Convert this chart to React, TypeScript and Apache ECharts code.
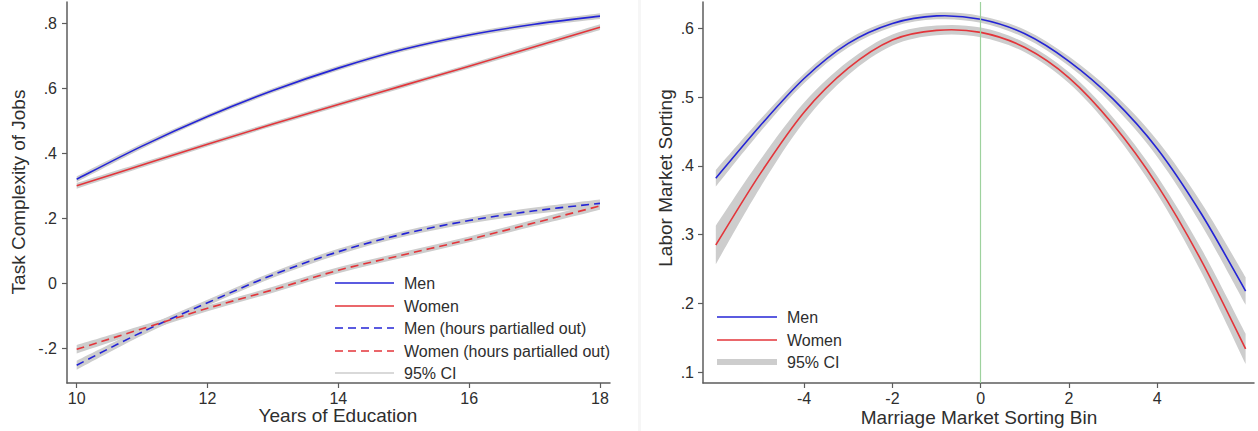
import React, { useEffect, useRef } from "react";
import * as echarts from "echarts";

// Left panel: task complexity by years of education
const EDU = [10, 11, 12, 13, 14, 15, 16, 17, 18];
const MEN = [0.32, 0.422, 0.513, 0.593, 0.662, 0.72, 0.764, 0.797, 0.822];
const WOMEN = [0.3, 0.364, 0.428, 0.49, 0.55, 0.609, 0.668, 0.728, 0.788];
const MEN_HRS = [-0.252, -0.15, -0.06, 0.026, 0.097, 0.152, 0.193, 0.223, 0.246];
const WOMEN_HRS = [-0.203, -0.14, -0.077, -0.02, 0.04, 0.088, 0.135, 0.186, 0.238];
const MEN_CI = [0.009, 0.008, 0.007, 0.007, 0.007, 0.007, 0.007, 0.008, 0.009];
const WOMEN_CI = [0.009, 0.008, 0.007, 0.007, 0.007, 0.007, 0.007, 0.008, 0.009];
const MEN_HRS_CI = [0.014, 0.011, 0.009, 0.009, 0.009, 0.009, 0.009, 0.01, 0.012];
const WOMEN_HRS_CI = [0.013, 0.01, 0.009, 0.009, 0.009, 0.009, 0.009, 0.01, 0.012];
const EDU_TICKS = [10, 12, 14, 16, 18];
const TASK_TICKS = [-0.2, 0, 0.2, 0.4, 0.6, 0.8];

// Right panel: labor market sorting by marriage market sorting bin
const BIN = [-6, -5, -4, -3, -2, -1, 0, 1, 2, 3, 4, 5, 6];
const LMS_MEN = [0.382, 0.458, 0.527, 0.578, 0.607, 0.618, 0.613, 0.592, 0.552, 0.497, 0.425, 0.33, 0.218];
const LMS_WOMEN = [0.285, 0.388, 0.478, 0.542, 0.583, 0.597, 0.594, 0.572, 0.528, 0.46, 0.372, 0.262, 0.134];
const LMS_MEN_CI = [0.012, 0.009, 0.007, 0.006, 0.005, 0.005, 0.005, 0.006, 0.007, 0.009, 0.012, 0.016, 0.02];
const LMS_WOMEN_CI = [0.028, 0.02, 0.014, 0.01, 0.008, 0.007, 0.007, 0.007, 0.008, 0.01, 0.013, 0.017, 0.022];
const BIN_TICKS = [-4, -2, 0, 2, 4];
const SORT_TICKS = [0.1, 0.2, 0.3, 0.4, 0.5, 0.6];

const BLUE = "#2424d6";
const RED = "#e3353a";
const BAND = "#cdcdcd";
const AXIS = "#5c5c5c";
const TEXT = "#2e2e2e";
const FONT = "'Liberation Sans', Arial, sans-serif";

const stataLabel = (v: number) => {
  if (Math.abs(v) < 1e-9) return "0";
  const s = String(Number(v.toFixed(3)));
  return s.replace(/^(-?)0\./, "$1.");
};

type Pt = number[];

// Catmull-Rom spline through pixel points, written as cubic Bezier segments
function splineSegments(p: Pt[], moveFirst: boolean) {
  let d = moveFirst ? `M${p[0][0]},${p[0][1]}` : `L${p[0][0]},${p[0][1]}`;
  for (let i = 0; i < p.length - 1; i++) {
    const p0 = p[i - 1] || p[i];
    const p1 = p[i];
    const p2 = p[i + 1];
    const p3 = p[i + 2] || p2;
    const c1x = p1[0] + (p2[0] - p0[0]) / 6;
    const c1y = p1[1] + (p2[1] - p0[1]) / 6;
    const c2x = p2[0] - (p3[0] - p1[0]) / 6;
    const c2y = p2[1] - (p3[1] - p1[1]) / 6;
    d += ` C${c1x},${c1y} ${c2x},${c2y} ${p2[0]},${p2[1]}`;
  }
  return d;
}

function band(xs: number[], mid: number[], half: number[], axis: number) {
  return {
    type: "custom",
    coordinateSystem: "cartesian2d",
    xAxisIndex: axis,
    yAxisIndex: axis,
    silent: true,
    z: 1,
    data: [[xs[0], mid[0]]],
    renderItem: (_params: any, api: any) => {
      const upper = xs.map((x, i) => api.coord([x, mid[i] + half[i]]));
      const lower = xs.map((x, i) => api.coord([x, mid[i] - half[i]])).reverse();
      const d = splineSegments(upper, true) + " " + splineSegments(lower, false) + " Z";
      return { type: "path", shape: { pathData: d }, style: { fill: BAND, stroke: "none" } };
    },
  };
}

function curve(xs: number[], ys: number[], color: string, axis: number, dashed = false) {
  return {
    type: "custom",
    coordinateSystem: "cartesian2d",
    xAxisIndex: axis,
    yAxisIndex: axis,
    silent: true,
    z: 3,
    data: [[xs[0], ys[0]]],
    renderItem: (_params: any, api: any) => {
      const pts = xs.map((x, i) => api.coord([x, ys[i]]));
      return {
        type: "path",
        shape: { pathData: splineSegments(pts, true) },
        style: { fill: "none", stroke: color, lineWidth: 1.6, lineDash: dashed ? [8, 5] : null },
      };
    },
  };
}

function valueAxis(min: number, max: number, ticks: number[], pos: "bottom" | "left", gridIndex: number, margin: number) {
  return {
    type: "value",
    gridIndex,
    position: pos,
    min,
    max,
    splitLine: { show: false },
    axisLine: { show: true, onZero: false, lineStyle: { color: AXIS, width: 1.5 } },
    axisTick: { show: true, inside: false, length: 5, customValues: ticks, lineStyle: { color: AXIS, width: 1.2 } },
    axisLabel: {
      customValues: ticks,
      formatter: (v: number) => stataLabel(v),
      color: TEXT,
      fontSize: 16,
      fontFamily: FONT,
      margin,
    },
  };
}

function legendRows(x1: number, x2: number, tx: number, rows: { y: number; label: string; color: string; width: number; dash?: number[] }[]) {
  const els: any[] = [];
  rows.forEach((r) => {
    els.push({
      type: "line",
      shape: { x1, y1: r.y, x2, y2: r.y },
      style: { stroke: r.color, lineWidth: r.width, lineDash: r.dash || null },
    });
    els.push({
      type: "text",
      x: tx,
      y: r.y,
      style: { text: r.label, font: `16px ${FONT}`, fill: TEXT, verticalAlign: "middle", align: "left" },
    });
  });
  return els;
}

export default function App() {
  const ref = useRef<HTMLDivElement>(null);

  useEffect(() => {
    document.body.style.margin = "0";
    if (!ref.current) return;
    const chart = echarts.init(ref.current, undefined, { renderer: "svg" });

    const option: any = {
      animation: false,
      backgroundColor: "#ffffff",
      grid: [
        { left: 67, top: 2, width: 543, height: 381 },
        { left: 703, top: 2, width: 551, height: 381 },
      ],
      xAxis: [
        valueAxis(9.852, 18.153, EDU_TICKS, "bottom", 0, 7),
        valueAxis(-6.29, 6.19, BIN_TICKS, "bottom", 1, 7),
      ],
      yAxis: [
        valueAxis(-0.3068, 0.8655, TASK_TICKS, "left", 0, 10),
        valueAxis(0.0844, 0.6382, SORT_TICKS, "left", 1, 9),
      ],
      series: [
        band(EDU, MEN, MEN_CI, 0),
        band(EDU, WOMEN, WOMEN_CI, 0),
        band(EDU, MEN_HRS, MEN_HRS_CI, 0),
        band(EDU, WOMEN_HRS, WOMEN_HRS_CI, 0),
        curve(EDU, MEN, BLUE, 0),
        curve(EDU, WOMEN, RED, 0),
        curve(EDU, MEN_HRS, BLUE, 0, true),
        curve(EDU, WOMEN_HRS, RED, 0, true),
        band(BIN, LMS_MEN, LMS_MEN_CI, 1),
        band(BIN, LMS_WOMEN, LMS_WOMEN_CI, 1),
        {
          type: "line",
          xAxisIndex: 1,
          yAxisIndex: 1,
          data: [],
          silent: true,
          markLine: {
            silent: true,
            symbol: "none",
            label: { show: false },
            lineStyle: { color: "#9ed29e", width: 1.2, type: "solid" },
            data: [{ xAxis: 0 }],
          },
          z: 2,
        },
        curve(BIN, LMS_MEN, BLUE, 1),
        curve(BIN, LMS_WOMEN, RED, 1),
      ],
      graphic: [
        {
          type: "rect",
          shape: { x: 638, y: 0, width: 3, height: 431 },
          style: { fill: "#f6f6f6" },
          silent: true,
        },
        {
          type: "text",
          x: 18,
          y: 192,
          rotation: Math.PI / 2,
          style: { text: "Task Complexity of Jobs", font: `19px ${FONT}`, fill: TEXT, align: "center", verticalAlign: "middle" },
        },
        {
          type: "text",
          x: 338,
          y: 415,
          style: { text: "Years of Education", font: `19px ${FONT}`, fill: TEXT, align: "center", verticalAlign: "middle" },
        },
        {
          type: "text",
          x: 665,
          y: 178,
          rotation: Math.PI / 2,
          style: { text: "Labor Market Sorting", font: `19px ${FONT}`, fill: TEXT, align: "center", verticalAlign: "middle" },
        },
        {
          type: "text",
          x: 979,
          y: 417,
          style: { text: "Marriage Market Sorting Bin", font: `19px ${FONT}`, fill: TEXT, align: "center", verticalAlign: "middle" },
        },
        ...legendRows(335, 394, 404, [
          { y: 283, label: "Men", color: BLUE, width: 1.6 },
          { y: 306, label: "Women", color: RED, width: 1.6 },
          { y: 328, label: "Men (hours partialled out)", color: BLUE, width: 1.6, dash: [8, 5] },
          { y: 351, label: "Women (hours partialled out)", color: RED, width: 1.6, dash: [8, 5] },
          { y: 373, label: "95% CI", color: BAND, width: 1.6 },
        ]),
        ...legendRows(717, 777, 787, [
          { y: 317, label: "Men", color: BLUE, width: 1.6 },
          { y: 340, label: "Women", color: RED, width: 1.6 },
          { y: 362, label: "95% CI", color: BAND, width: 6 },
        ]),
      ],
    };

    chart.setOption(option);
    return () => chart.dispose();
  }, []);

  return <div ref={ref} style={{ width: 1258, height: 431 }} />;
}
